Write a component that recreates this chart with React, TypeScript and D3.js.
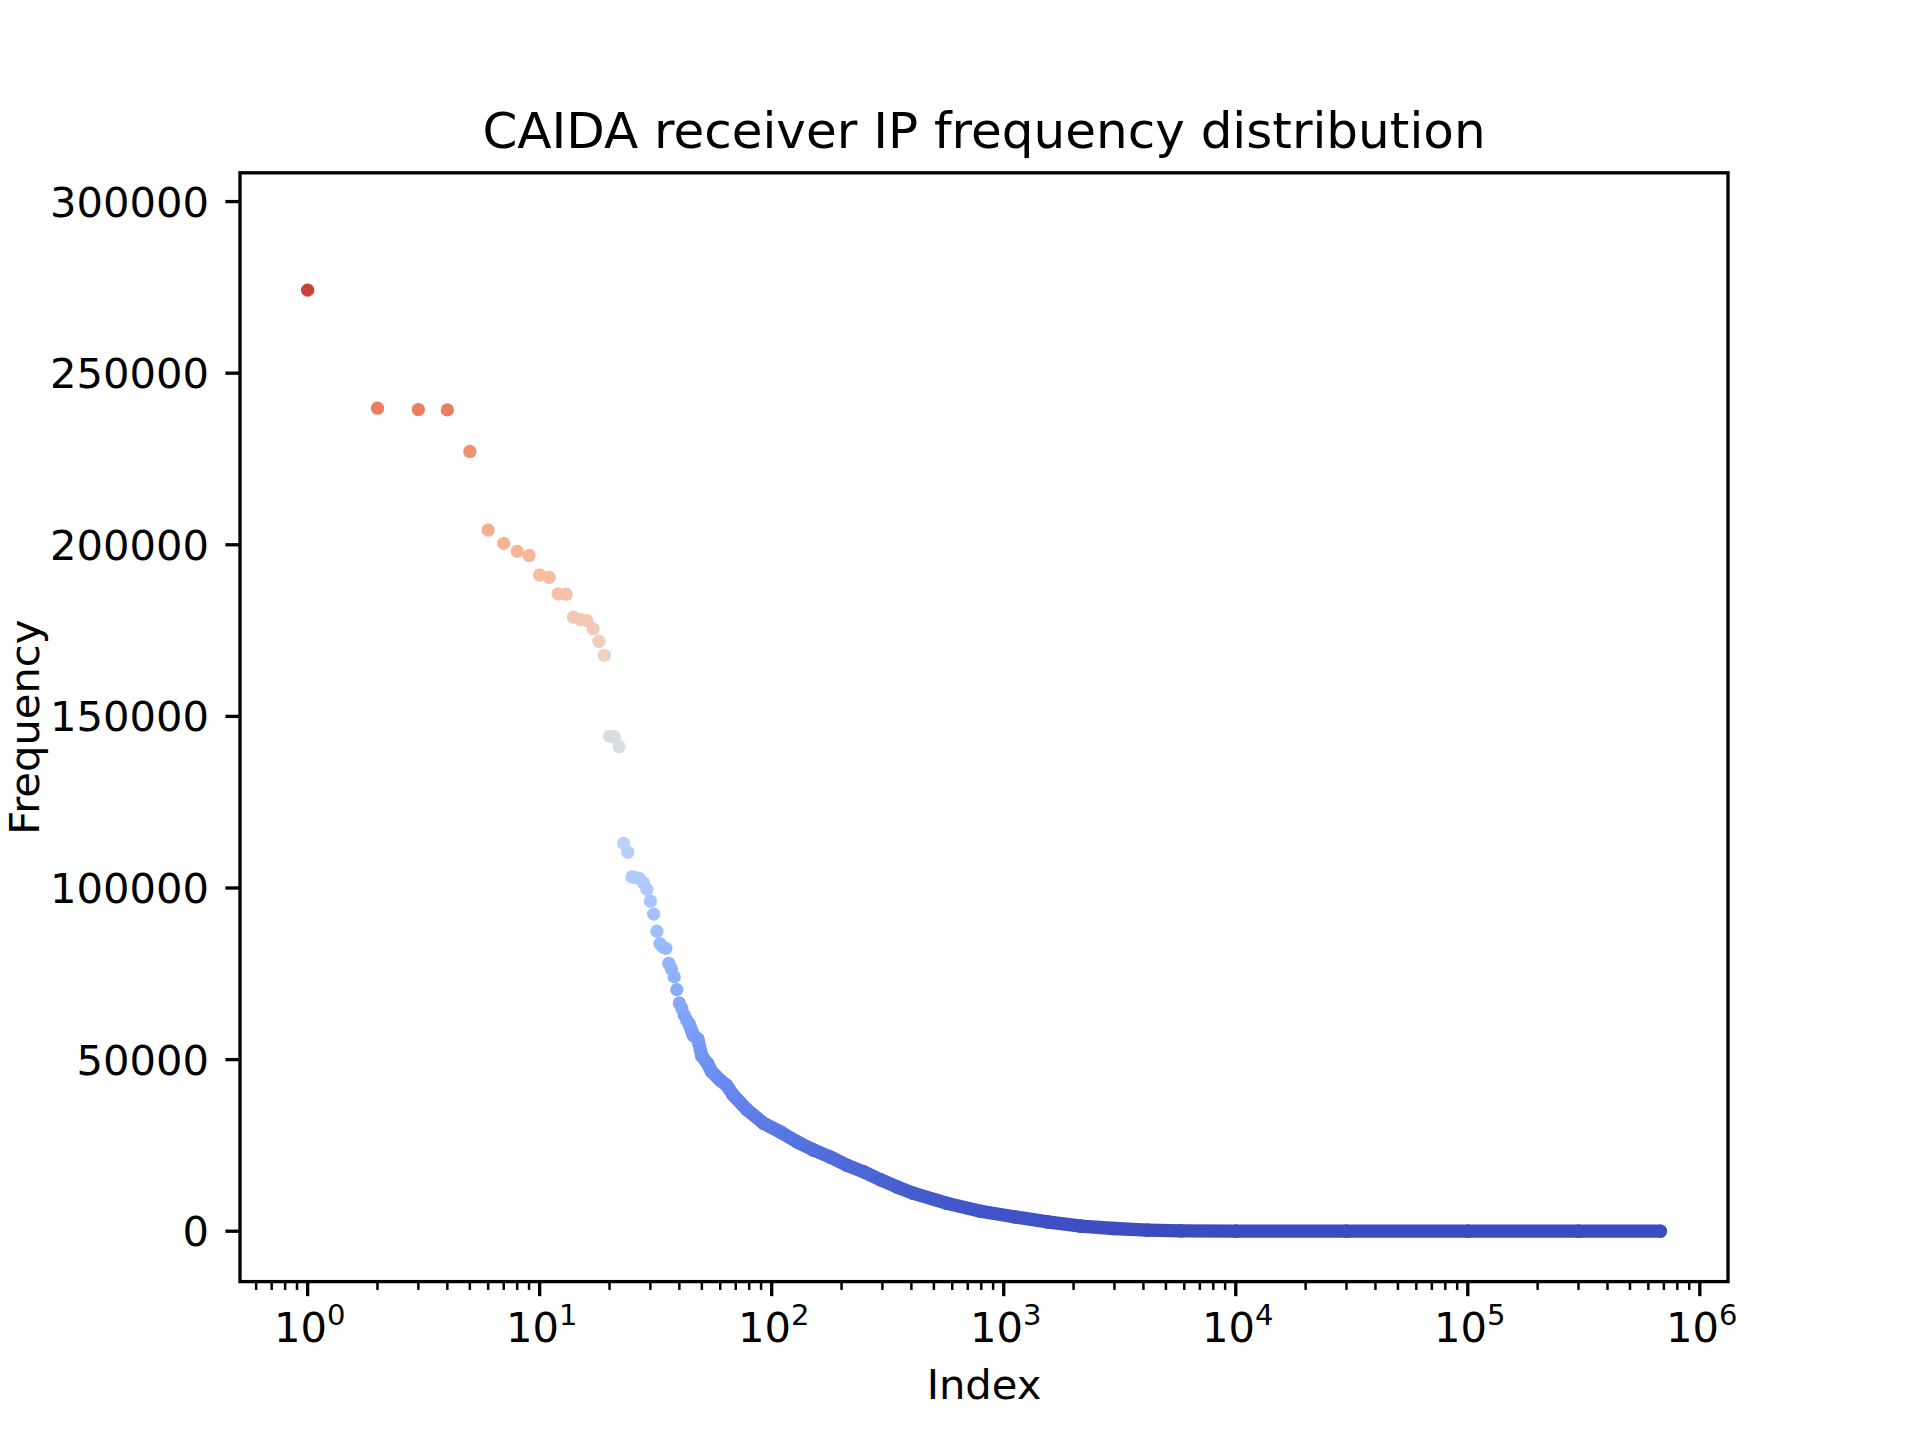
import React from "react";
import * as d3 from "d3";

// ---- Data ----
// Index 0 is not drawable on a log axis but sets the y-limits and colour scale.
const hiddenIndex0Value = 293700;

// Frequencies for indices 1..44 (individually visible markers)
const headValues = [
  274200, 239800, 239400, 239300, 227200, 204300, 200400, 198100, 196900, 191200,
  190500, 185700, 185600, 178900, 178200, 177900, 175500, 171900, 167800, 144200,
  144000, 141200, 113000, 110400, 103200, 103000, 102700, 101500, 99600, 96200,
  92400, 87400, 83800, 82800, 82400, 78000, 76400, 74100, 70400, 66500,
  64900, 62900, 61500, 60500,
];

// Dense tail, sampled along the band of overlapping markers
const tailIndex = [
  46, 48, 50, 53, 55, 60, 64, 68, 78, 92, 109, 129, 152, 179, 211, 249, 294, 347, 410,
  571, 795, 1107, 1542, 2148, 2990, 4160, 5800, 10000, 30000, 100000, 300000, 676000,
];
const tailValues = [
  57000, 56000, 51000, 48800, 46500, 44000, 42500, 39800, 35500, 31500, 28900, 26000,
  23600, 21600, 19200, 17300, 15000, 12900, 11000, 8100, 5800, 4200, 2700, 1460, 790,
  290, 100, 40, 10, 3, 1, 1,
];

const yTicks = [0, 50000, 100000, 150000, 200000, 250000, 300000];
const xMajorExps = [0, 1, 2, 3, 4, 5, 6];

const coolwarmStops = [
  [59, 76, 192], [68, 90, 204], [77, 104, 215], [87, 117, 225], [98, 130, 234],
  [108, 142, 241], [119, 154, 247], [130, 165, 251], [141, 176, 254], [152, 185, 255],
  [163, 194, 255], [174, 201, 253], [184, 208, 249], [194, 213, 244], [204, 217, 238],
  [213, 219, 230], [221, 221, 221], [229, 216, 209], [236, 211, 197], [241, 204, 184],
  [245, 196, 172], [247, 187, 159], [247, 177, 147], [247, 166, 134], [244, 154, 123],
  [241, 141, 111], [236, 127, 99], [229, 112, 89], [222, 96, 77], [213, 80, 66],
  [203, 62, 56], [192, 40, 47], [180, 4, 38],
];

// ---- Layout ----
const W = 1920;
const H = 1440;
const L = 240;
const R = 1728;
const T = 172.8;
const B = 1281.6;
const FONT = "'DejaVu Sans', sans-serif";
const MR = 6.65;

export default function App() {
  const head = headValues.map((v, i) => ({ i: i + 1, v }));
  const tail = tailIndex.map((idx, k) => ({ i: idx, v: tailValues[k] }));
  const all = [...head, ...tail];

  const maxIdx = d3.max(all, (d) => d.i) as number;
  const Lg = Math.log10(maxIdx);
  const x = d3
    .scaleLog()
    .domain([Math.pow(10, -0.05 * Lg), Math.pow(10, 1.05 * Lg)])
    .range([L, R]);

  const allVals = [hiddenIndex0Value, ...all.map((d) => d.v)];
  const vmin = d3.min(allVals) as number;
  const vmax = d3.max(allVals) as number;
  const pad = 0.05 * (vmax - vmin);
  const y = d3.scaleLinear().domain([vmin - pad, vmax + pad]).range([B, T]);

  const cw = d3
    .scaleLinear<string>()
    .domain(coolwarmStops.map((_, k) => k / (coolwarmStops.length - 1)))
    .range(coolwarmStops.map((c) => `rgb(${c[0]},${c[1]},${c[2]})`))
    .interpolate(d3.interpolateRgb)
    .clamp(true);
  const color = (v: number) => cw((v - vmin) / (vmax - vmin));

  const band = [head[head.length - 1], ...tail];
  const segs = d3.pairs(band);

  const [dMin, dMax] = x.domain();
  const minorTicks: number[] = [];
  for (let e = -1; e <= 6; e++) {
    for (let k = 2; k <= 9; k++) {
      const v = k * Math.pow(10, e);
      if (v >= dMin && v <= dMax) minorTicks.push(v);
    }
  }

  return (
    <svg
      width={W}
      height={H}
      style={{ position: "absolute", left: 0, top: 0, background: "#fff" }}
      fontFamily={FONT}
    >
      <rect x={0} y={0} width={W} height={H} fill="#fff" />
      <defs>
        <clipPath id="plotclip">
          <rect x={L} y={T} width={R - L} height={B - T} />
        </clipPath>
      </defs>

      <g clipPath="url(#plotclip)">
        {segs.map(([a, b], k) => (
          <line
            key={"s" + k}
            x1={x(a.i)}
            y1={y(a.v)}
            x2={x(b.i)}
            y2={y(b.v)}
            stroke={color((a.v + b.v) / 2)}
            strokeWidth={MR * 2}
            strokeLinecap="round"
          />
        ))}
        {tail.map((d, k) => (
          <circle key={"t" + k} cx={x(d.i)} cy={y(d.v)} r={MR} fill={color(d.v)} />
        ))}
        {head
          .slice()
          .reverse()
          .map((d) => (
            <circle key={"h" + d.i} cx={x(d.i)} cy={y(d.v)} r={MR} fill={color(d.v)} />
          ))}
      </g>

      {/* spines */}
      <rect x={L} y={T} width={R - L} height={B - T} fill="none" stroke="#000" strokeWidth={3.33} />

      {/* y ticks */}
      {yTicks.map((t) => (
        <g key={"y" + t}>
          <line x1={L - 14.58} x2={L} y1={y(t)} y2={y(t)} stroke="#000" strokeWidth={3.33} />
          <text x={209} y={y(t)} dy="0.36em" textAnchor="end" fontSize={41.67} fill="#000">
            {t}
          </text>
        </g>
      ))}

      {/* x minor ticks */}
      {minorTicks.map((t) => (
        <line key={"m" + t} x1={x(t)} x2={x(t)} y1={B} y2={B + 8.33} stroke="#000" strokeWidth={2.5} />
      ))}
      {/* x major ticks */}
      {xMajorExps.map((e) => {
        const px = x(Math.pow(10, e));
        return (
          <g key={"x" + e}>
            <line x1={px} x2={px} y1={B} y2={B + 14.58} stroke="#000" strokeWidth={3.33} />
            <text x={px + 2} y={1341.7} textAnchor="middle" fontSize={41.67} fill="#000">
              10
              <tspan fontSize={29} dy={-17}>
                {e}
              </tspan>
            </text>
          </g>
        );
      })}

      {/* axis labels */}
      <text x={(L + R) / 2} y={1399} textAnchor="middle" fontSize={41.67} fill="#000">
        Index
      </text>
      <text
        transform={`translate(39, ${(T + B) / 2}) rotate(-90)`}
        textAnchor="middle"
        fontSize={41.67}
        fill="#000"
      >
        Frequency
      </text>

      {/* title */}
      <text x={(L + R) / 2} y={147.5} textAnchor="middle" fontSize={50} fill="#000">
        CAIDA receiver IP frequency distribution
      </text>
    </svg>
  );
}
